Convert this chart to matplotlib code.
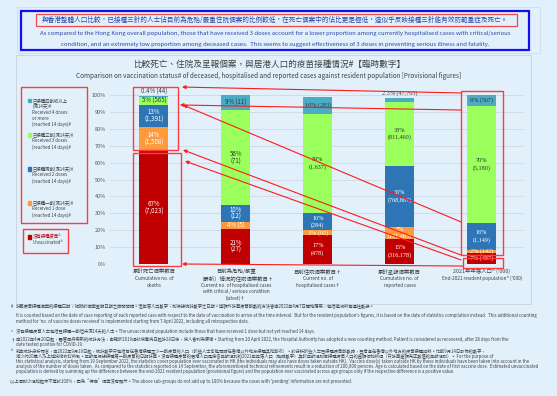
import matplotlib
matplotlib.use('Agg')
import matplotlib.pyplot as plt
from matplotlib.patches import Rectangle
import numpy as np

plt.rcParams['font.family'] = ['Noto Sans CJK TC', 'DejaVu Sans']

# ---------------- data ----------------
cat_lines = [
    ["累計死亡個案數目", "Cumulative no. of", "deaths"],
    ["目前為危殆/嚴重", "（最新）情況的住院個案數目†", "Current no. of hospitalised cases",
     "with critical / serious condition", "(latest)†"],
    ["目前住院個案數目†", "Current no. of", "hospitalised cases†"],
    ["累計呈報個案數目", "Cumulative no. of", "reported cases"],
    ["2021年年底人口^ ('000)", "End-2021 resident population^ ('000)"],
]

unvacc = [67, 21, 17, 15, 6.5]
dose1 = [14, 4, 3, 7, 2]
dose2 = [13, 10, 10, 36, 15.5]
dose3 = [5, 56, 59, 38, 69.5]
dose4 = [0.4, 9, 10, 2.3, 7.5]

unvacc_pct = ["67%", "21%", "17%", "15%", "7%"]
unvacc_n = ["(7,023)", "(27)", "(478)", "(316,178)", "(487)"]
dose1_pct = ["14%", "4%", "3%", "7%", "2%"]
dose1_n = ["(1,508)", "(5)", "(92)", "(151,485)", "(142)"]
dose2_pct = ["13%", "10%", "10%", "36%", "16%"]
dose2_n = ["(1,391)", "(12)", "(284)", "(768,867)", "(1,149)"]
dose3_pct = ["5%", "56%", "59%", "38%", "70%"]
dose3_n = ["(565)", "(71)", "(1,637)", "(811,460)", "(5,180)"]
dose4_pct = ["0.4%", "9%", "10%", "2.3%", "8%"]
dose4_n = ["(44)", "(11)", "(283)", "(47,705)", "(567)"]

series_names = [
    ["沒有接種疫苗^", "Unvaccinated^"],
    ["已接種一劑(滿14天)#", "Received 1 dose", "(reached 14 days)#"],
    ["已接種兩劑(滿14天)#", "Received 2 doses", "(reached 14 days)#"],
    ["已接種三劑(滿14天)#", "Received 3 doses", "(reached 14 days)#"],
    ["已接種四劑或以上", "(滿14天)#", "Received 4 doses", "or more", "(reached 14 days)#"],
]
colors = ['#C00000', '#FF9A3C', '#2E75B6', '#9BFF5C', '#4BACC6']
text_colors = ['white', 'white', 'white', '#333333', '#333333']

header_zh = "與香港整體人口比較，已接種三針的人士佔目前為危殆/嚴重住院個案的比例較低，在死亡個案中的佔比更是極低，這似乎反映接種三針能有效防範重症及死亡。"
header_en = ["As compared to the Hong Kong overall population, those that have received 3 doses account for a lower proportion among currently hospitalised cases with critical/serious",
             "condition, and an extremely low proportion among deceased cases.  This seems to suggest effectiveness of 3 doses in preventing serious illness and fatality."]
title_zh = "比較死亡、住院及呈報個案，與居港人口的疫苗接種情況#【臨時數字】"
title_en = "Comparison on vaccination status# of deceased, hospitalised and reported cases against resident population [Provisional figures]"

footnotes = [
    ("#", "計算疫苗接種個案的接種日期，相對於個案呈報日期之時間間隔。但年底人口數字，則根據統計數字之日期。這額外計算疫苗劑數的方法會由2022年4月7日開始應用，包括追溯所有過往數據。"),
    ("", "It is counted based on the date of case reporting of each reported case with respect to the date of vaccination to arrive at the time interval.  But for the resident population's figures, it is based on the date of statistics compilation instead.  This additional counting"),
    ("", "method for 'no. of vaccine doses received' is implemented starting from 7 April 2022, including all retrospective data."),
    ("*", "沒有接種疫苗人士包括已接種一劑但未滿14天的人士。The unvaccinated population include those that have received 1 dose but not yet reached 14 days."),
    ("†", "由2022年4月20日起，醫管局採用新的統計方法，由確診2019冠狀病毒病日起計28日後，病人會列為康復。Starting from 20 April 2022, the Hospital Authority has adopted a new counting method. Patient is considered as recovered, after 28 days from the"),
    ("", "date tested positive for COVID-19."),
    ("^", "就本統計分析而言，由2022年9月19日起，統計數字只包括曾在香港接種至少一劑疫苗的人口（該些人士可能同時在香港以外地方接種其他劑次）。於分析該些人士已接種疫苗劑數時，已考慮在香港以外地方的疫苗接種記錄。比較9月14日發佈的數字，"),
    ("", "減少約20萬人乃上述技術修訂所致。年齡是根據接種第一劑疫苗的日期計算。沒有接種疫苗的居港人口是按各年齡組別的2021年年底人口（臨時數字）與該年齡組別曾接種疫苗人口的差額相加所得（只計算差額為正數值的年齡組別）。 For the purpose of"),
    ("", "this statistical analysis, starting from 19 September 2022, the statistics cover population ever vaccinated in HK (the individuals may also have doses taken outside HK).  Vaccine dose(s) taken outside HK by these individuals have been taken into account in the"),
    ("", "analysis of the number of doses taken.  As compared to the statistics reported on 14 September, the aforementioned technical refinements result in a reduction of 200,000 persons. Age is calculated based on the date of first vaccine dose.  Estimated unvaccinated"),
    ("", "population is derived by summing up the difference between the end-2021 resident population (provisional figure) and the population ever vaccinated across age groups only if the respective difference is a positive value."),
    ("", "以上個別小組加起來不等於100%，因為\u201c待定\u201d個案沒有顯示。The above sub-groups do not add up to 100% because the cases with 'pending' information are not presented."),
]
foot_y = [306.5, 315.5, 321.5, 331.5, 339.5, 344.5, 351.5, 356.5, 361.5, 366.3, 371.2, 381.5]

# highlight boxes (data coords: x0, x1, y0, y1) and arrows (tail -> head)
boxes = [(-0.256, 0.293, 67.5, 104.7), (-0.256, 0.33, -1.2, 65.7),
         (3.748, 4.261, 5.3, 102.4), (3.773, 4.261, -2.4, 3.6)]
arrows = [((3.748, 101.2), (0.342, 104.7)), ((3.748, 91.1), (0.317, 94.1)),
          ((3.748, 24.9), (0.354, 94.1)), ((3.748, 5.3), (0.354, 67.5)),
          ((3.748, 2.4), (0.378, 60.9)), ((3.773, -1.2), (0.342, 0.0))]

# ---------------- figure ----------------
W, H = 557, 396
BG = '#E2F0FB'
fig = plt.figure(figsize=(W / 100, H / 100), dpi=100, facecolor=BG)


def fx(x):
    return x / W


def fy(y):
    return 1 - y / H


def frect(x0, y0, x1, y1, **kw):
    fig.patches.append(Rectangle((fx(x0), fy(y1)), (x1 - x0) / W, (y1 - y0) / H,
                                 transform=fig.transFigure, fill=False, **kw))


# panels
frect(17, 7, 540, 53, edgecolor='#CFDDE8', lw=0.6)
frect(16, 55, 531, 304, edgecolor='#C6D3DD', lw=0.6)
frect(21, 10.5, 529, 50, edgecolor='#1010F0', lw=1.6)
frect(35.5, 14, 517, 26, edgecolor='#F04848', lw=0.9)

fig.text(fx(275), fy(20.2), header_zh, ha='center', va='center', fontsize=4.75, color='#2B45A8')
fig.text(fx(275), fy(33.2), header_en[0], ha='center', va='center', fontsize=4.3, color='#2B45A8')
fig.text(fx(275), fy(44.2), header_en[1], ha='center', va='center', fontsize=4.3, color='#2B45A8')

fig.text(fx(269), fy(64), title_zh, ha='center', va='center', fontsize=6.2, color='#404040')
fig.text(fx(269), fy(75.5), title_en, ha='center', va='center', fontsize=4.6, color='#404040')

ax = fig.add_axes([fx(110), fy(264), (523 - 110) / W, (264 - 95) / H])
ax.set_facecolor(BG)
ax.set_xlim(-0.537, 4.505)
ax.set_ylim(0, 100)
for s in ax.spines.values():
    s.set_visible(False)
ax.set_yticks(np.arange(0, 101, 10))
ax.set_yticklabels([f"{v}%" for v in range(0, 101, 10)])
ax.tick_params(axis='y', length=0, labelsize=4.0, labelcolor='#595959', pad=3)
ax.set_xticks([])
ax.grid(axis='y', color='#CDD7E0', lw=0.6)
ax.set_axisbelow(True)

x = np.arange(len(unvacc))
series = [unvacc, dose1, dose2, dose3, dose4]
pcts = [unvacc_pct, dose1_pct, dose2_pct, dose3_pct, dose4_pct]
counts = [unvacc_n, dose1_n, dose2_n, dose3_n, dose4_n]
bottom = np.zeros(len(x))
bw = 0.354
for si, vals in enumerate(series):
    vals = np.array(vals, dtype=float)
    ax.bar(x, vals, bw, bottom=bottom, color=colors[si], linewidth=0)
    for i in range(len(x)):
        mid = bottom[i] + vals[i] / 2
        fam = ['Noto Sans CJK TC'] if i < 2 else ['Liberation Serif']
        if si == 4 and vals[i] < 3:
            ax.text(x[i], bottom[i] + vals[i] + 2.6, f"{pcts[si][i]} {counts[si][i]}",
                    ha='center', va='center', fontsize=4.4, color='#404040', family=fam)
        elif si == 4 or vals[i] < 7:
            ax.text(x[i], mid, f"{pcts[si][i]} {counts[si][i]}", ha='center', va='center',
                    fontsize=4.4, color=text_colors[si], family=fam)
        else:
            ax.text(x[i], mid + 2.2, pcts[si][i], ha='center', va='center',
                    fontsize=4.4, color=text_colors[si], family=fam)
            ax.text(x[i], mid - 2.2, counts[si][i], ha='center', va='center',
                    fontsize=4.4, color=text_colors[si], family=fam)
    bottom += vals

# category labels
offs = [7, 14.5, 21.5, 27.5, 34]
for i, lines in enumerate(cat_lines):
    for j, line in enumerate(lines):
        is_zh = any('\u4e00' <= ch <= '\u9fff' for ch in line)
        ax.annotate(line, xy=(x[i], 0), xycoords=('data', 'axes fraction'),
                    xytext=(0, -offs[j] * 0.72), textcoords='offset points',
                    ha='center', va='center', fontsize=3.9 if is_zh else 3.4,
                    color='#404040', annotation_clip=False)

# highlight boxes & arrows
for (x0, x1, y0, y1) in boxes:
    ax.add_patch(Rectangle((x0, y0), x1 - x0, y1 - y0, fill=False, edgecolor='#FF3B3B',
                           lw=1.0, clip_on=False, zorder=5))
for tail, head in arrows:
    ax.annotate('', xy=head, xytext=tail, xycoords='data',
                arrowprops=dict(arrowstyle='-|>', color='#FF1A1A', lw=0.8,
                                mutation_scale=5, shrinkA=0, shrinkB=0),
                annotation_clip=False, zorder=6)

# legend (left side)
frect(21, 87, 87, 223, edgecolor='#FF3B3B', lw=1.0)
frect(23, 229, 68, 253, edgecolor='#FF3B3B', lw=1.0)
leg_y = {4: 100.7, 3: 135, 2: 169, 1: 203, 0: 237}
for si in [4, 3, 2, 1, 0]:
    y0 = leg_y[si]
    fig.patches.append(Rectangle((fx(27.5), fy(y0 + 1.6)), 3.2 / W, 3.2 / H,
                                 transform=fig.transFigure, color=colors[si]))
    for j, line in enumerate(series_names[si]):
        c = '#C00000' if (si == 0 and j == 0) else '#404040'
        fig.text(fx(32.5), fy(y0 + j * 5.9), line, ha='left', va='center',
                 fontsize=3.2, color=c)

# footnotes
for (mark, txt), yy in zip(footnotes, foot_y):
    if mark:
        fig.text(fx(10.5), fy(yy), mark, ha='left', va='center', fontsize=3.1, color='#404040')
        fig.text(fx(16), fy(yy), txt, ha='left', va='center', fontsize=3.1, color='#404040')
    else:
        xx = 10.5 if txt.startswith('以上') else 16
        fig.text(fx(xx), fy(yy), txt, ha='left', va='center', fontsize=3.1, color='#404040')

fig.savefig('out.png', dpi=100, facecolor=BG)
